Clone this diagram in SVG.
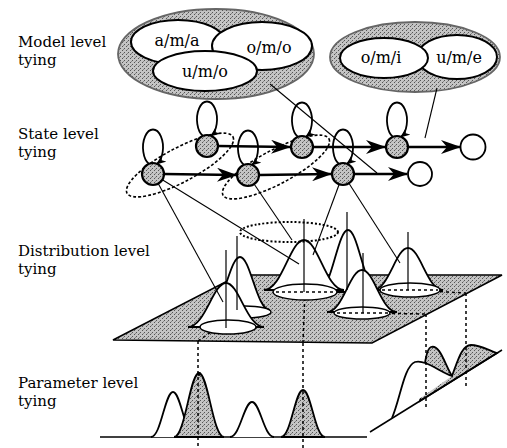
<svg xmlns="http://www.w3.org/2000/svg" width="507" height="448" viewBox="0 0 507 448">
<defs>
<pattern id="stip" patternUnits="userSpaceOnUse" width="4" height="4">
<rect width="4" height="4" fill="#c4c4c4"/>
<rect x="0" y="0" width="1" height="1" fill="#555"/>
<rect x="2" y="2" width="1" height="1" fill="#555"/>
<rect x="3" y="1" width="1" height="1" fill="#888"/>
</pattern>
<style>
.lbl{font-family:"DejaVu Serif","Liberation Serif",serif;font-size:15px;fill:#000}
.in{font-family:"DejaVu Serif","Liberation Serif",serif;font-size:16px;fill:#000;text-anchor:middle}
.blob{fill:url(#stip);stroke:#666;stroke-width:1.8}
.mdl{fill:#fff;stroke:#000;stroke-width:2}
.st{fill:url(#stip);stroke:#000;stroke-width:2.2}
.end{fill:#fff;stroke:#000;stroke-width:1.8}
.loop{fill:none;stroke:#000;stroke-width:1.8}
.tr{stroke:#000;stroke-width:2.6;fill:none}
.thin{stroke:#000;stroke-width:1.1;fill:none}
.grp{fill:none;stroke:#000;stroke-width:1.6;stroke-dasharray:3 2}
.dash{stroke:#000;stroke-width:1.5;stroke-dasharray:3 3;fill:none}
.dot{fill:none;stroke:#000;stroke-width:2;stroke-dasharray:2 2}
.bump{fill:#fff;stroke:#000;stroke-width:1.8}
.gbump{fill:url(#stip);stroke:#000;stroke-width:1.8}
.base{fill:#fff;stroke:#000;stroke-width:1.4}
.plane{fill:url(#stip);stroke:#000;stroke-width:1.5}
.stick{stroke:#000;stroke-width:1.2}
</style>
<marker id="ah" markerUnits="userSpaceOnUse" markerWidth="20" markerHeight="14" refX="19" refY="7" orient="auto"><path d="M0,0 L20,7 L0,14 L6,7 Z" fill="#000"/></marker>
<marker id="lh" markerUnits="userSpaceOnUse" markerWidth="10" markerHeight="8" refX="9" refY="4" orient="auto"><path d="M0,0 L10,4 L0,8 L3,4 Z" fill="#000"/></marker>
</defs>

<g id="labels">
<text class="lbl" x="18" y="47">Model level</text>
<text class="lbl" x="18" y="65">tying</text>
<text class="lbl" x="18" y="139">State level</text>
<text class="lbl" x="18" y="157">tying</text>
<text class="lbl" x="18" y="256">Distribution level</text>
<text class="lbl" x="18" y="274">tying</text>
<text class="lbl" x="18" y="388">Parameter level</text>
<text class="lbl" x="18" y="406">tying</text>
</g>

<g id="distribution-plane">
<polygon class="plane" points="113,340 239,275 502,275 372,343"/>
<path class="dash" d="M240,312 L198,341 M305,292 L303,342 M362,313 L426,314 M410,290 L466,293"/>
</g>

<g id="dist-bumps">
<path class="bump" d="M373,290 C388.75,290 395.75,248 408,248 C420.25,248 427.25,290 443,290 Z"/>
<ellipse class="base" cx="410" cy="290" rx="30" ry="7"/>
<line class="dash" x1="382" y1="290" x2="438" y2="290"/>
<path class="bump" d="M318,292 C331.5,292 337.5,230 348,230 C358.5,230 364.5,292 378,292 Z"/>
<path class="bump" d="M264,290 C282,290 290,240 304,240 C318,240 326,290 344,290 Z"/>
<ellipse class="base" cx="305" cy="292" rx="32" ry="8"/>
<line class="dash" x1="276" y1="292" x2="334" y2="292"/>
<path class="bump" d="M210,310 C223.5,310 229.5,257 240,257 C250.5,257 256.5,310 270,310 Z"/>
<ellipse class="base" cx="245" cy="312" rx="26" ry="6"/>
<path class="bump" d="M327,312 C342.75,312 349.75,270 362,270 C374.25,270 381.25,312 397,312 Z"/>
<ellipse class="base" cx="362" cy="313" rx="28" ry="6"/>
<line class="dash" x1="337" y1="313" x2="388" y2="313"/>
<path class="bump" d="M188,327 C205,327 213,283 226,283 C239,283 247,327 264,327 Z"/>
<ellipse class="base" cx="228" cy="327" rx="28" ry="7"/>
<line class="stick" x1="237" y1="236" x2="237" y2="310"/>
<line class="stick" x1="226" y1="250" x2="226" y2="328"/>
<line class="stick" x1="304" y1="219" x2="304" y2="292"/>
<line class="stick" x1="347" y1="212" x2="347" y2="290"/>
<line class="stick" x1="363" y1="253" x2="363" y2="313"/>
<line class="stick" x1="408" y1="232" x2="408" y2="290"/>
<ellipse class="dot" cx="289" cy="232" rx="49" ry="10"/>
</g>

<g id="parameter-level">
<line x1="100" y1="437" x2="367" y2="437" stroke="#000" stroke-width="1.5"/>
<path class="bump" fill="none" d="M151,437 C161,437 165,392 173,392 C181,392 185,437 195,437"/>
<path class="gbump" d="M174,437 C185,437 190,373 199,373 C208,373 213,437 224,437 Z"/>
<circle cx="199" cy="374" r="2" fill="#000"/>
<path class="bump" fill="none" d="M230,437 C240,437 244,402 252,402 C260,402 264,437 274,437"/>
<path class="gbump" d="M281,437 C291,437 295,390 303,390 C311,390 315,437 325,437 Z"/>
<path class="gbump" d="M420,401 C424,380 424,350 431,347 C440,344 445,365 452,376 C458,360 462,345 471,345 C480,345 488,350 497,353 Z"/>
<path class="bump" fill="none" d="M392,418 C400,400 404,366 415,362 C425,359 440,372 452,376"/>
<line x1="370" y1="432" x2="502" y2="350" stroke="#000" stroke-width="1.5"/>
<path class="dash" d="M198,341 L198,448 M303,343 L303,448 M426,314 L426,410 M466,293 L466,388"/>
</g>

<g id="model-blob-1">
<ellipse class="blob" cx="216" cy="54" rx="98" ry="45"/>
<ellipse class="mdl" cx="178" cy="42" rx="47" ry="22"/>
<ellipse class="mdl" cx="262" cy="46" rx="50" ry="24"/>
<ellipse class="mdl" cx="205" cy="71" rx="52" ry="20"/>
<text class="in" x="177" y="46">a/m/a</text>
<text class="in" x="269" y="53">o/m/o</text>
<text class="in" x="205" y="77">u/m/o</text>
</g>

<g id="model-blob-2">
<ellipse class="blob" cx="415" cy="57" rx="85" ry="35"/>
<ellipse class="mdl" cx="457" cy="57" rx="40" ry="22"/>
<ellipse class="mdl" cx="384" cy="58" rx="44" ry="20"/>
<text class="in" x="381" y="63">o/m/i</text>
<text class="in" x="459" y="63">u/m/e</text>
</g>

<g id="connectors">
<line class="thin" x1="270" y1="84" x2="377" y2="173"/>
<line class="thin" x1="437" y1="88" x2="425" y2="138"/>
<line class="thin" x1="153" y1="174" x2="223" y2="302"/>
<line class="thin" x1="153" y1="174" x2="299" y2="264"/>
<line class="thin" x1="248" y1="175" x2="292" y2="240"/>
<line class="thin" x1="343" y1="174" x2="313" y2="255"/>
<line class="thin" x1="343" y1="174" x2="400" y2="263"/>
<ellipse class="grp" cx="180" cy="165" rx="60" ry="17" transform="rotate(-28 180 165)"/>
<ellipse class="grp" cx="276" cy="167" rx="60" ry="17" transform="rotate(-28 276 167)"/>
<line class="tr" x1="218" y1="146" x2="290" y2="147" marker-end="url(#ah)"/>
<line class="tr" x1="313" y1="147" x2="385" y2="147" marker-end="url(#ah)"/>
<line class="tr" x1="408" y1="147" x2="460" y2="147" marker-end="url(#ah)"/>
<line class="tr" x1="164" y1="174" x2="236" y2="175" marker-end="url(#ah)"/>
<line class="tr" x1="259" y1="175" x2="331" y2="174" marker-end="url(#ah)"/>
<line class="tr" x1="354" y1="174" x2="407" y2="174" marker-end="url(#ah)"/>
<path class="loop" d="M203,136 A10 18 0 1 1 211,136" marker-end="url(#lh)"/>
<path class="loop" d="M298,137 A10 18 0 1 1 306,137" marker-end="url(#lh)"/>
<path class="loop" d="M393,137 A10 18 0 1 1 401,137" marker-end="url(#lh)"/>
<path class="loop" d="M149,164 A10 18 0 1 1 157,164" marker-end="url(#lh)"/>
<path class="loop" d="M244,165 A10 18 0 1 1 252,165" marker-end="url(#lh)"/>
<path class="loop" d="M339,164 A10 18 0 1 1 347,164" marker-end="url(#lh)"/>
</g>

<g id="state-u1"><circle class="st" cx="207" cy="146" r="11"/></g>
<g id="state-u2"><circle class="st" cx="302" cy="147" r="11"/></g>
<g id="state-u3"><circle class="st" cx="397" cy="147" r="11"/></g>
<g id="state-u4"><circle class="end" cx="473" cy="147" r="12.5"/></g>
<g id="state-l1"><circle class="st" cx="153" cy="174" r="11"/></g>
<g id="state-l2"><circle class="st" cx="248" cy="175" r="11"/></g>
<g id="state-l3"><circle class="st" cx="343" cy="174" r="11"/></g>
<g id="state-l4"><circle class="end" cx="420" cy="174" r="12"/></g>
</svg>
